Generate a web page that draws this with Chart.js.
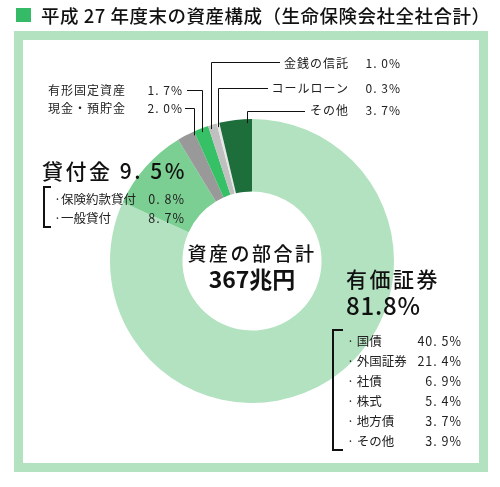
<!DOCTYPE html>
<html lang="ja">
<head>
<meta charset="utf-8">
<script src="https://cdn.jsdelivr.net/npm/chart.js@4.4.1/dist/chart.umd.min.js"></script>
<style>
  body { margin: 0; background: #fff; font-family: "Noto Sans CJK JP", sans-serif; color: #222; }
  #wrap { position: relative; width: 500px; height: 487px; overflow: hidden; }
  #frame { position: absolute; left: 14px; top: 31px; width: 456px; height: 423px; border: 9px solid #b3e2c0; }
  #chart { position: absolute; left: 0; top: 0; }
  .t { position: absolute; white-space: nowrap; }
  .sq { position: absolute; left: 16px; top: 8px; width: 15px; height: 14px; background: #35bb68; }
  .title { left: 41px; top: 5px; font-size: 18.5px; line-height: 20px; font-weight: 500; letter-spacing: 0.5px; color: #111; }
  .small { font-size: 12px; line-height: 14px; letter-spacing: 1px; }
  .row { position: absolute; font-size: 12.5px; line-height: 15px; display: flex; justify-content: space-between; white-space: nowrap; }
  .row .v { letter-spacing: 1px; margin-right: -1px; }
  .big { font-size: 21px; line-height: 24px; letter-spacing: 2.5px; font-weight: 500; color: #111; }
  .brk { position: absolute; border-left: 2px solid #111; border-top: 2px solid #111; border-bottom: 2px solid #111; }
  .center { position: absolute; left: 152px; width: 200px; text-align: center; color: #111; }
</style>
</head>
<body>
<div id="wrap">
  <div id="frame"></div>
  <canvas id="chart" width="500" height="487"></canvas>
  <div id="labels"></div>
</div>
<script>
// 平成27年度末の資産構成（生命保険会社全社合計）
var categories = ['有価証券', '貸付金', '現金・預貯金', '有形固定資産', '金銭の信託', 'コールローン', 'その他'];
var shares = [81.8, 9.5, 2.0, 1.7, 1.0, 0.3, 3.7];

var loanNames = ['保険約款貸付', '一般貸付'];
var loanShares = [0.8, 8.7];

var securityNames = ['国債', '外国証券', '社債', '株式', '地方債', 'その他'];
var securityShares = [40.5, 21.4, 6.9, 5.4, 3.7, 3.9];

var totalAssets = 367; // 兆円

function pct(v) {
    return v.toFixed(1).replace('.', '. ') + '%';
}

/* ======= callouts for the thin slices (index into categories) ======= */
var callouts = [
    { i: 2, side: 'left', y: 108, textY: 108, xFrom: 185, xV: 194 },
    { i: 3, side: 'left', y: 90, textY: 90, xFrom: 187, xV: 202 },
    { i: 4, side: 'right', y: 62, textY: 63, xFrom: 280, xV: 211 },
    { i: 5, side: 'right', y: 88, textY: 88, xFrom: 268, xV: 218 },
    { i: 6, side: 'right', y: 111, textY: 110, xFrom: 305, xV: 247 }
];

var leaderLines = {
    id: 'leaderLines',
    afterDatasetsDraw: function (chart) {
        var arc = chart.getDatasetMeta(0).data[0];
        var cx = arc.x, cy = arc.y, r = arc.outerRadius;
        var ctx = chart.ctx;
        ctx.save();
        ctx.strokeStyle = '#111';
        ctx.lineWidth = 1;
        callouts.forEach(function (c) {
            var dx = c.xV - cx;
            var yEdge = cy - Math.sqrt(r * r - dx * dx) + 4;
            ctx.beginPath();
            ctx.moveTo(c.xFrom, c.y + 0.5);
            ctx.lineTo(c.xV + 0.5, c.y + 0.5);
            ctx.lineTo(c.xV + 0.5, yEdge);
            ctx.stroke();
        });
        ctx.restore();
    }
};

new Chart(document.getElementById('chart'), {
    type: 'doughnut',
    data: {
        labels: categories,
        datasets: [{
            data: shares,
            backgroundColor: ['#b3e2c0', '#7bcf92', '#999999', '#36c167', '#c0c0c0', '#e6e6e6', '#1e6e3c'],
            borderWidth: 0
        }]
    },
    options: {
        responsive: false,
        animation: false,
        cutout: '49%',
        layout: { padding: { left: 110, right: 106, top: 119, bottom: 84 } },
        plugins: { legend: { display: false }, tooltip: { enabled: false } }
    },
    plugins: [leaderLines]
});

/* ======= text ======= */
var html = '';
html += '<div class="sq"></div>';
html += '<div class="t title">平成 27 年度末の資産構成（生命保険会社全社合計）</div>';

callouts.forEach(function (c) {
    var top = c.textY - 7;
    if (c.side === 'left') {
        html += '<div class="t small" style="left:48px;top:' + top + 'px">' + categories[c.i] + '</div>';
        html += '<div class="t small" style="right:' + (500 - 183) + 'px;top:' + top + 'px">' + pct(shares[c.i]) + '</div>';
    } else {
        html += '<div class="t small" style="right:' + (500 - 349) + 'px;top:' + top + 'px">' + categories[c.i] + '</div>';
        html += '<div class="t small" style="right:' + (500 - 401) + 'px;top:' + top + 'px">' + pct(shares[c.i]) + '</div>';
    }
});

// 貸付金
html += '<div class="t big" style="left:42px;top:158px">' + categories[1] + ' ' + pct(shares[1]) + '</div>';
html += '<div class="brk" style="left:43px;top:186px;width:6px;height:38px"></div>';
loanNames.forEach(function (n, k) {
    html += '<div class="row" style="left:54px;width:130px;top:' + (191 + k * 19) + 'px"><span>·' + n + '</span><span class="v">' + pct(loanShares[k]) + '</span></div>';
});

// 有価証券
html += '<div class="t big" style="left:346px;top:266px">' + categories[0] + '</div>';
html += '<div class="t" style="left:346px;top:291px;font-size:24px;line-height:28px;letter-spacing:0.8px;font-weight:500;color:#111">' + shares[0].toFixed(1) + '%</div>';
html += '<div class="brk" style="left:332px;top:329px;width:9px;height:118px"></div>';
securityNames.forEach(function (n, k) {
    html += '<div class="row" style="left:347px;width:114px;top:' + (333 + k * 19.9) + 'px"><span>· ' + n + '</span><span class="v">' + pct(securityShares[k]) + '</span></div>';
});

// 中央
html += '<div class="center" style="top:241px;font-size:19px;line-height:24px;letter-spacing:2.5px;font-weight:500">資産の部合計</div>';
html += '<div class="center" style="top:265px;font-size:23px;line-height:26px;font-weight:700">' + totalAssets + '兆円</div>';

document.getElementById('labels').innerHTML = html;
</script>
</body>
</html>
